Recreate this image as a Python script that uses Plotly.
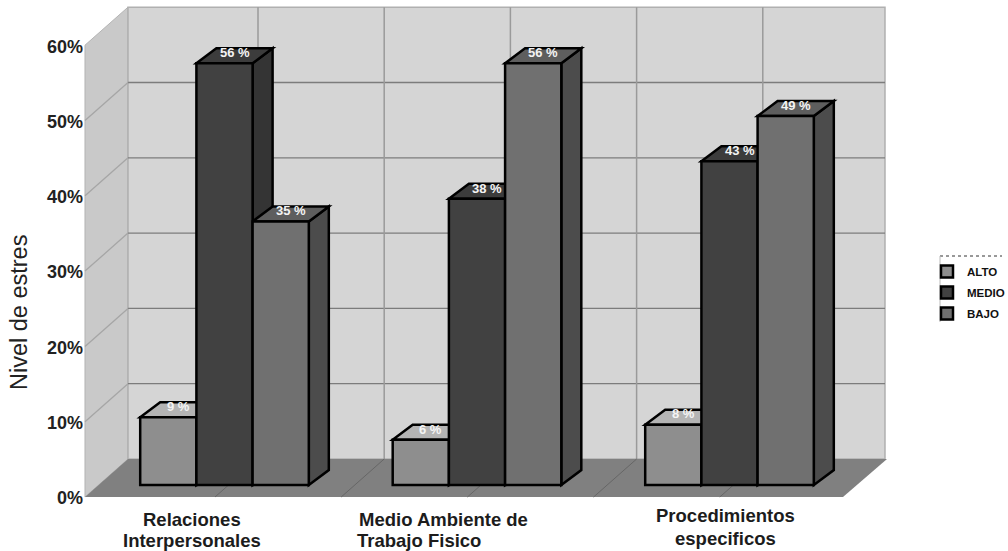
import plotly.graph_objects as go

# Stress level by work-environment factor
series = ["ALTO", "MEDIO", "BAJO"]
alto = [9, 6, 8]
medio = [56, 38, 43]
bajo = [35, 56, 49]
percent_ticks = [0, 10, 20, 30, 40, 50, 60]
category_lines = [
    ["Relaciones", "Interpersonales"],
    ["Medio Ambiente de", "Trabajo Fisico"],
    ["Procedimientos", "especificos"],
]

# Page scale: one category is 252.5 px wide, one percent is 7.53 px tall
W, H = 1008, 551
X_UNIT, Y_UNIT = 252.5, 7.53
X_ZERO_PX, Y_ZERO_PX = 224.5, 485
X_RANGE = [-X_ZERO_PX / X_UNIT, (W - X_ZERO_PX) / X_UNIT]
Y_RANGE = [-(H - Y_ZERO_PX) / Y_UNIT, Y_ZERO_PX / Y_UNIT]


def dx(px):
    return px / X_UNIT


def dy(px):
    return px / Y_UNIT


def xpos(px):
    return (px - X_ZERO_PX) / X_UNIT


def ypos(px):
    return (Y_ZERO_PX - px) / Y_UNIT


BAR_WIDTH = dx(56.2)
DEPTH_X, DEPTH_Y = dx(20), dy(15)

FRONT_COLORS = ["#8e8e8e", "#414141", "#707070"]
SIDE_COLORS = ["#6a6a6a", "#343434", "#4c4c4c"]
TOP_COLORS = ["#b4b4b4", "#3c3c3c", "#5e5e5e"]

values_by_series = [alto, medio, bajo]


def polygon(points, fill, line="rgba(0,0,0,0)", width=0):
    path = "M" + " L".join(f"{x:.4f},{y:.4f}" for x, y in points) + " Z"
    return dict(type="path", path=path, xref="x", yref="y", layer="below",
                fillcolor=fill, line=dict(color=line, width=width))


def segment(x0, y0, x1, y1, color, width=1.3):
    return dict(type="line", x0=x0, y0=y0, x1=x1, y1=y1, xref="x", yref="y",
                layer="below", line=dict(color=color, width=width))


# Room: side wall, back wall and floor
WALL_L_FRONT, WALL_L_BACK = xpos(85), xpos(128)
WALL_R_BACK, WALL_R_FRONT = xpos(885), xpos(843)
ZERO_BACK, ZERO_FRONT = ypos(459), ypos(497)
TOP_PCT = percent_ticks[-1]

shapes = [
    polygon([(WALL_L_FRONT, ZERO_FRONT), (WALL_L_BACK, ZERO_BACK),
             (WALL_L_BACK, ZERO_BACK + TOP_PCT), (WALL_L_FRONT, ZERO_FRONT + TOP_PCT)],
            "#c9c9c9", "#b4b4b4", 1),
    polygon([(WALL_L_BACK, ZERO_BACK), (WALL_R_BACK, ZERO_BACK),
             (WALL_R_BACK, ZERO_BACK + TOP_PCT), (WALL_L_BACK, ZERO_BACK + TOP_PCT)],
            "#d5d5d5", "#b0b0b0", 1.5),
    polygon([(WALL_L_FRONT, ZERO_FRONT), (WALL_L_BACK, ZERO_BACK),
             (xpos(887), ZERO_BACK), (WALL_R_FRONT, ZERO_FRONT)],
            "#808080"),
]

# Percent gridlines wrap around the side and back walls
for pct in percent_ticks[1:-1]:
    shapes.append(segment(WALL_L_BACK, ZERO_BACK + pct, WALL_R_BACK, ZERO_BACK + pct, "#7c7c7c"))
    shapes.append(segment(WALL_L_FRONT, ZERO_FRONT + pct, WALL_L_BACK, ZERO_BACK + pct, "#a6a6a6"))

# Vertical gridlines run down the back wall and forward over the floor
for i in range(5):
    gx = xpos(258) + i * dx(126.2)
    shapes.append(segment(gx, ZERO_BACK, gx, ZERO_BACK + TOP_PCT, "#9a9a9a", 1.5))
    shapes.append(segment(gx, ZERO_BACK, gx - dx(43), ZERO_FRONT, "#666666", 1))

# Side and top faces of each bar, painted left to right beneath the front faces
for s, values in enumerate(values_by_series):
    for g, v in enumerate(values):
        left = g + (s - 1.5) * BAR_WIDTH
        right = left + BAR_WIDTH
        shapes.append(polygon([(right, 0), (right + DEPTH_X, DEPTH_Y),
                               (right + DEPTH_X, v + DEPTH_Y), (right, v)],
                              SIDE_COLORS[s], "#000000", 2.5))
        shapes.append(polygon([(left, v), (right, v),
                               (right + DEPTH_X, v + DEPTH_Y), (left + DEPTH_X, v + DEPTH_Y)],
                              TOP_COLORS[s], "#000000", 2.5))

fig = go.Figure()
for s, name in enumerate(series):
    fig.add_trace(go.Bar(
        x=list(range(len(values_by_series[s]))),
        y=values_by_series[s],
        name=name,
        legendgroup=name,
        marker=dict(color=FRONT_COLORS[s], line=dict(color="#000000", width=2.5)),
    ))

annotations = []

# Value labels sit on the top face of each bar
for s, values in enumerate(values_by_series):
    for g, v in enumerate(values):
        annotations.append(dict(
            x=g + (s - 1) * BAR_WIDTH + DEPTH_X / 2, y=v + DEPTH_Y * 0.72,
            xref="x", yref="y", text=f"{v} %", showarrow=False,
            font=dict(family="Liberation Sans", size=13, color="#f4f4f4", weight="bold"),
        ))

# Category names under the floor, two lines each
label_centres = [(192, 192), (443, 419), (725, 725)]
label_rows = [(519, 540), (519, 540), (515, 538)]
for lines, centres, rows in zip(category_lines, label_centres, label_rows):
    for line, cx, cy in zip(lines, centres, rows):
        annotations.append(dict(
            x=xpos(cx), y=ypos(cy), xref="x", yref="y", text=line, showarrow=False,
            font=dict(family="Liberation Sans", size=18.5, color="#1c1c1c", weight="bold"),
        ))

annotations.append(dict(
    x=xpos(19), y=ypos(313), xref="x", yref="y", text="Nivel de estres",
    textangle=-90, showarrow=False,
    font=dict(family="Liberation Sans", size=23.5, color="#222222"),
))

# Legend frame: dotted top edge and faint left edge
shapes.append(dict(type="line", xref="paper", yref="paper",
                   x0=940 / W, x1=1002 / W, y0=1 - 256 / H, y1=1 - 256 / H,
                   line=dict(color="#333333", width=1, dash="dot")))
shapes.append(dict(type="line", xref="paper", yref="paper",
                   x0=940 / W, x1=940 / W, y0=1 - 256 / H, y1=1 - 322 / H,
                   line=dict(color="#bbbbbb", width=1)))

fig.update_layout(
    width=W, height=H,
    margin=dict(l=0, r=0, t=0, b=0, autoexpand=False),
    paper_bgcolor="#ffffff",
    plot_bgcolor="#ffffff",
    barmode="group",
    bargap=1 - 3 * BAR_WIDTH,
    bargroupgap=0,
    showlegend=True,
    legend=dict(
        x=927 / W, y=1 - 257 / H, xanchor="left", yanchor="top",
        bgcolor="rgba(0,0,0,0)", traceorder="grouped", tracegroupgap=2,
        font=dict(family="Liberation Sans", size=11.5, color="#111111", weight="bold"),
        itemclick=False, itemdoubleclick=False,
    ),
    xaxis=dict(visible=False, range=X_RANGE, domain=[0, 1], fixedrange=True),
    yaxis=dict(
        range=Y_RANGE, domain=[0, 1], anchor="free", position=83 / W,
        tickvals=percent_ticks, ticktext=[f"{p}%" for p in percent_ticks],
        showgrid=False, zeroline=False, showline=False, ticks="",
        ticklabelshift=13, fixedrange=True,
        tickfont=dict(family="Liberation Sans", size=18, color="#222222", weight="bold"),
    ),
    shapes=shapes,
    annotations=annotations,
)

fig.write_html("out.html", config=dict(displayModeBar=False))
